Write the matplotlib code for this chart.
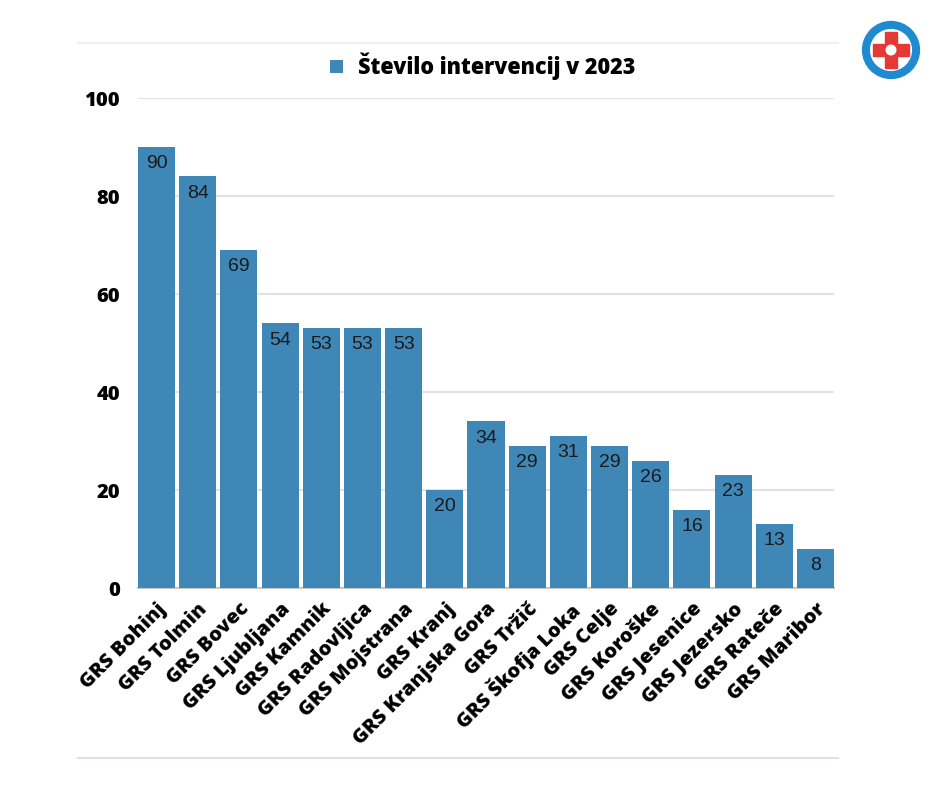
import matplotlib.pyplot as plt
from matplotlib.patches import Circle, Rectangle, Patch
from matplotlib.lines import Line2D
import matplotlib.transforms as mtransforms

# data
stations = ["GRS Bohinj", "GRS Tolmin", "GRS Bovec", "GRS Ljubljana", "GRS Kamnik",
            "GRS Radovljica", "GRS Mojstrana", "GRS Kranj", "GRS Kranjska Gora",
            "GRS Tržič", "GRS Škofja Loka", "GRS Celje", "GRS Koroške",
            "GRS Jesenice", "GRS Jezersko", "GRS Rateče", "GRS Maribor"]
interventions = [90, 84, 69, 54, 53, 53, 53, 20, 34, 29, 31, 29, 26, 16, 23, 13, 8]
series_name = "Število intervencij v 2023"
yticks = [0, 20, 40, 60, 80, 100]

bar_color = "#3f87b6"

fig = plt.figure(figsize=(9.4, 7.88), dpi=100)
ax = fig.add_axes([0.1468, 0.2538, 0.7404, 0.6218])

x = list(range(len(stations)))
ax.bar(x, interventions, width=0.9, color=bar_color, zorder=3)

# value labels inside the top of each bar
for xi, v in zip(x, interventions):
    ax.annotate(str(v), (xi, v), xytext=(0, -12), textcoords="offset points",
                ha="center", va="center", fontsize=14, color="#1a1a1a",
                family="Liberation Sans", zorder=4)

ax.set_xlim(-0.45, len(stations) - 0.55)
ax.set_ylim(0, 100)
ax.set_yticks(yticks)
ax.set_yticklabels([str(t) for t in yticks], fontsize=14.5, fontweight="heavy",
                   family="Open Sans")
ax.set_xticks(x)
ax.set_xticklabels(stations, rotation=45, ha="right", rotation_mode="anchor",
                   fontsize=14.5, fontweight="heavy", family="Open Sans")
# nudge the rotated labels a bit to the right
shift = mtransforms.ScaledTranslation(6 / 72, 0, fig.dpi_scale_trans)
for lab in ax.get_xticklabels():
    lab.set_transform(lab.get_transform() + shift)
ax.tick_params(axis="both", length=0)
ax.tick_params(axis="y", pad=13)
ax.tick_params(axis="x", pad=8)

ax.grid(axis="y", color="#e2e2e2", linewidth=1.5, zorder=0)
ax.set_axisbelow(True)
for s in ["top", "right", "left"]:
    ax.spines[s].set_visible(False)
ax.spines["bottom"].set_color("#c8c8c8")
ax.spines["bottom"].set_linewidth(1.5)

# legend centred above the plot
handle = Patch(facecolor=bar_color, edgecolor="none")
fig.legend([handle], [series_name], loc="center", bbox_to_anchor=(0.514, 0.916),
           frameon=False, handlelength=0.6, handleheight=0.6, handletextpad=0.7,
           prop={"family": "Open Sans", "weight": "heavy", "size": 15.5})

# faint frame lines top and bottom
fig.add_artist(Line2D([0.083, 0.892], [0.946, 0.946], color="#f0f0f0", linewidth=1.5))
fig.add_artist(Line2D([0.083, 0.892], [0.038, 0.038], color="#e0e0e6", linewidth=1.5))

# simple logo top right
lx, ly = 891 / 940, 1 - 50 / 788
logo = fig.add_axes([lx - 0.032, ly - 0.038, 0.064, 0.076])
logo.set_xlim(-1, 1)
logo.set_ylim(-1, 1)
logo.set_aspect("equal")
logo.axis("off")
logo.add_patch(Circle((0, 0), 0.95, color="#1e8ad0"))
logo.add_patch(Circle((0, 0), 0.68, color="white"))
logo.add_patch(Rectangle((-0.2, -0.6), 0.4, 1.2, color="#e53935"))
logo.add_patch(Rectangle((-0.6, -0.2), 1.2, 0.4, color="#e53935"))
logo.add_patch(Circle((0, 0), 0.16, color="white"))

fig.savefig("out.png", dpi=100, facecolor="white")
